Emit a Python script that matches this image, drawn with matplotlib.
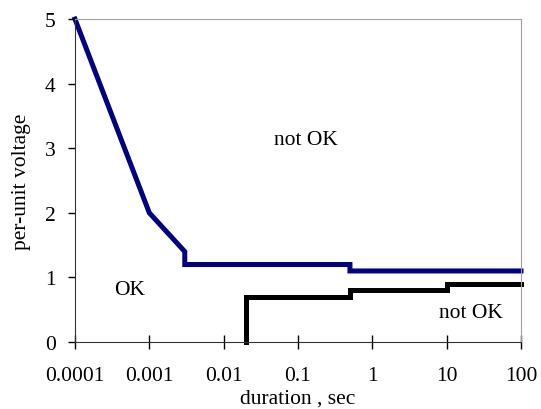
import matplotlib
matplotlib.use("Agg")
import matplotlib.pyplot as plt

plt.rcParams['font.family'] = ['Liberation Serif', 'DejaVu Serif']

# ITI-style tolerance curves
upper_t = [0.0001, 0.001, 0.003, 0.003, 0.5, 0.5, 100]
upper_v = [5, 2, 1.4, 1.2, 1.2, 1.1, 1.1]
lower_t = [0.02, 0.02, 0.5, 0.5, 10, 10, 100]
lower_v = [0, 0.7, 0.7, 0.8, 0.8, 0.9, 0.9]

xticks = [0.0001, 0.001, 0.01, 0.1, 1, 10, 100]
xlabels = ["0.0001", "0.001", "0.01", "0.1", "1", "10", "100"]
yticks = [0, 1, 2, 3, 4, 5]

fs = 15.5

fig = plt.figure(figsize=(5.41, 4.10), dpi=100)
ax = fig.add_axes([0.1386, 0.1634, 0.963 - 0.1386, 0.951 - 0.1634])

ax.plot(upper_t, upper_v, color="#000080", lw=3.6, solid_joinstyle="miter", clip_on=False)
ax.plot(lower_t, lower_v, color="black", lw=3.6, solid_joinstyle="miter", clip_on=False)

ax.set_xscale("log")
ax.set_xlim(0.0001, 100)
ax.set_ylim(0, 5)
ax.set_xticks(xticks)
ax.set_xticklabels(xlabels)
ax.minorticks_off()
ax.set_yticks(yticks)
ax.tick_params(axis="x", direction="inout", length=10, width=1, labelsize=fs, pad=12)
ax.tick_params(axis="y", direction="out", length=5, width=1, labelsize=fs, pad=9)

for s in ["top", "right"]:
    ax.spines[s].set_color("#a0a0a0")
ax.spines["left"].set_color("#333333")
ax.spines["bottom"].set_color("#333333")

ax.set_xlabel("duration , sec", fontsize=fs, labelpad=3)
ax.set_ylabel("per-unit voltage", fontsize=fs, labelpad=10)

ax.text(0.00055, 0.82, "OK", fontsize=fs, ha="center", va="center")
ax.text(0.126, 3.14, "not OK", fontsize=fs, ha="center", va="center")
ax.text(21, 0.46, "not OK", fontsize=fs, ha="center", va="center")

fig.savefig("out.png", dpi=100)
